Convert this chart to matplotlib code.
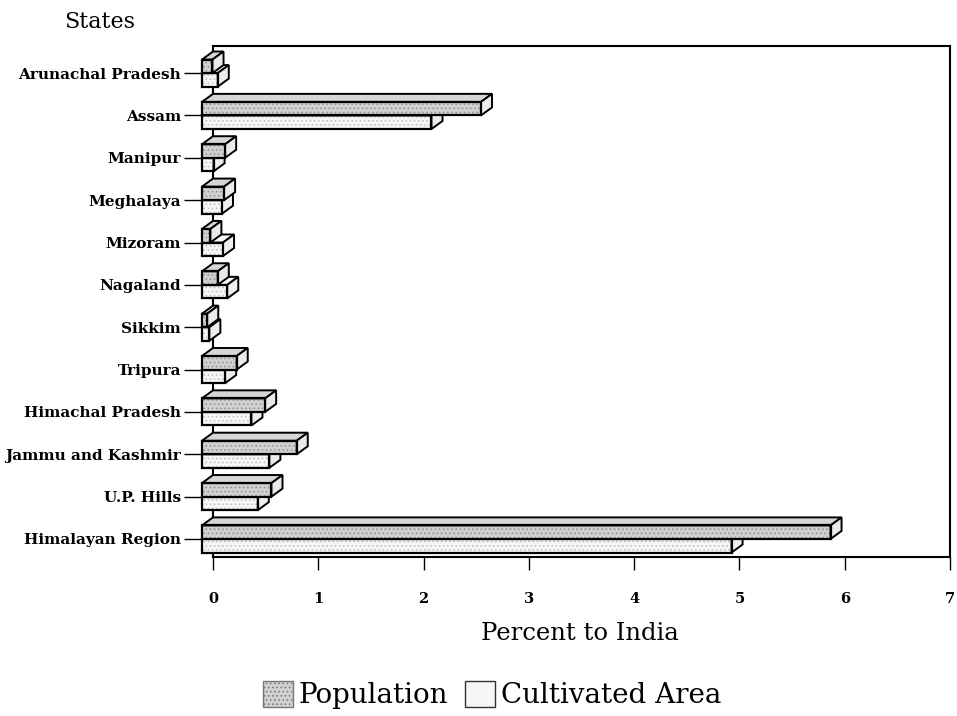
import matplotlib
matplotlib.use("Agg")
import matplotlib.pyplot as plt
from matplotlib.patches import Patch

plt.rcParams["font.family"] = "DejaVu Serif"
plt.rcParams["hatch.linewidth"] = 0.6

# percent share of India (top to bottom)
states = ["Arunachal Pradesh", "Assam", "Manipur", "Meghalaya", "Mizoram",
          "Nagaland", "Sikkim", "Tripura", "Himachal Pradesh",
          "Jammu and Kashmir", "U.P. Hills", "Himalayan Region"]
population = [0.10, 2.65, 0.22, 0.21, 0.08, 0.15, 0.05, 0.33, 0.60, 0.90, 0.66, 5.97]
cultivated = [0.15, 2.18, 0.11, 0.19, 0.20, 0.24, 0.07, 0.22, 0.47, 0.64, 0.53, 5.03]
x_ticks = [0, 1, 2, 3, 4, 5, 6, 7]

BAR_H = 0.32   # height of one bar face (category units)
DX = 0.105     # depth offset, x units
DY = 0.19      # depth offset, y units

POP_STYLE = dict(face="#d0d0d0", top="#d6d6d6", side="#eaeaea", dots="#8f8f8f")
CULT_STYLE = dict(face="#f6f6f6", top="#fbfbfb", side="#eeeeee", dots="#bdbdbd")


def draw_box(ax, y0, value, style, z):
    """Front face via barh, top and right faces as polygons (fake 3D)."""
    ax.barh(y0, value, left=-DX, height=BAR_H, align="edge", color=style["face"],
            hatch="....", edgecolor=style["dots"], linewidth=0, zorder=z,
            clip_on=False)
    ax.barh(y0, value, left=-DX, height=BAR_H, align="edge", fill=False,
            edgecolor="black", linewidth=1.6, zorder=z + 0.001, clip_on=False)
    yt = y0 + BAR_H
    ax.fill([-DX, value - DX, value, 0], [yt, yt, yt + DY, yt + DY],
            facecolor=style["top"], edgecolor="black", linewidth=1.4,
            zorder=z, clip_on=False)
    ax.fill([value - DX, value, value, value - DX],
            [y0, y0 + DY, yt + DY, yt],
            facecolor=style["side"], edgecolor="black", linewidth=1.4,
            zorder=z, clip_on=False)


fig = plt.figure(figsize=(9.57, 7.16), dpi=100)
ax = fig.add_axes([213 / 957, 159 / 716, (950 - 213) / 957, (557 - 46) / 716])

n = len(states)
for i, name in enumerate(states):
    k = n - 1 - i
    draw_box(ax, k - BAR_H, cultivated[i], CULT_STYLE, 3 + i * 0.01)
    draw_box(ax, k, population[i], POP_STYLE, 3.005 + i * 0.01)

ax.set_xlim(0, 7)
ax.set_ylim(-0.425, 11.64)
ax.set_xticks(x_ticks)
ax.set_xticklabels([str(t) for t in x_ticks], fontsize=10.5, fontweight="bold")
ax.set_yticks(range(n))
ax.set_yticklabels(states[::-1], fontsize=11, fontweight="bold")
ax.tick_params(axis="y", length=21, width=1.0, pad=2)
ax.tick_params(axis="x", length=9, width=1.0, pad=16)
for sp in ax.spines.values():
    sp.set_linewidth(1.5)

fig.text(100 / 957, 1 - 22 / 716, "States", fontsize=16, ha="center", va="center")
fig.text(580 / 957, 1 - 633 / 716, "Percent to India", fontsize=17.5,
         ha="center", va="center")

handles = [Patch(facecolor="#d0d0d0", edgecolor="#777777", hatch="...."),
           Patch(facecolor="#f6f6f6", edgecolor="#333333")]
fig.legend(handles, ["Population", "Cultivated Area"], loc="center",
           bbox_to_anchor=(492 / 957, 1 - 695 / 716), ncol=2, frameon=False,
           fontsize=20, handlelength=1.1, handleheight=1.1,
           handletextpad=0.2, columnspacing=0.6)

fig.savefig("out.png", dpi=100)
